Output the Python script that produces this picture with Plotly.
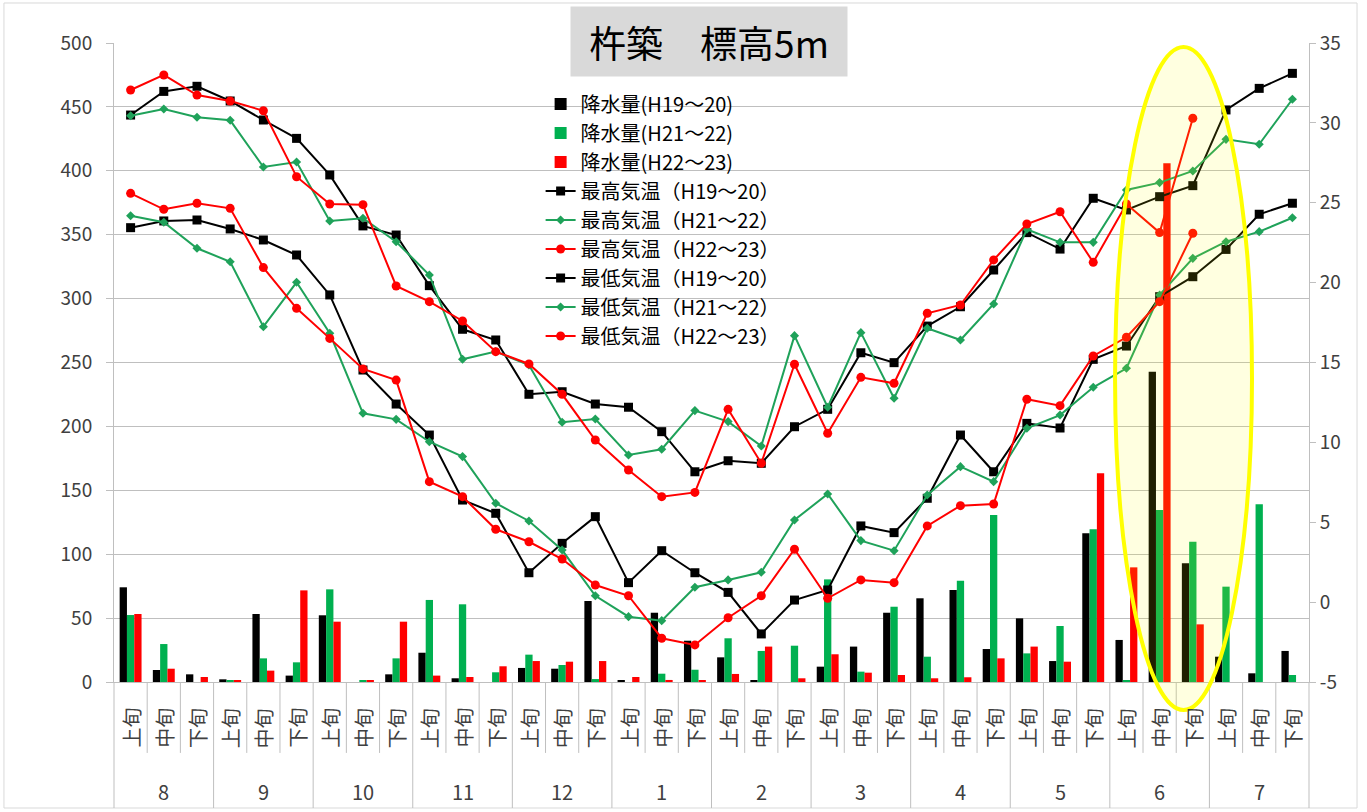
import plotly.graph_objects as go

months = ["8", "9", "10", "11", "12", "1", "2", "3", "4", "5", "6", "7"]
decades = ["上旬", "中旬", "下旬"]

rain_h19 = [74.1, 9.4, 6.0, 2.1, 53.2, 5.0, 52.2, 0, 6.0, 22.9, 2.9, 0, 11.0, 10.4, 63.4, 1.0, 54.2, 32.3,
            19.3, 0.8, 0, 12.0, 27.7, 54.2, 65.5, 72.0, 25.8, 49.8, 16.4, 116.3, 32.9, 242.8, 92.9, 19.8, 6.8, 24.3]
rain_h21 = [52.4, 29.7, 0, 0.8, 18.5, 15.4, 72.5, 1.0, 18.5, 64.2, 60.8, 7.6, 21.4, 13.3, 2.3, 0, 6.5, 9.6,
            34.2, 24.3, 28.4, 80.3, 8.1, 58.9, 19.8, 79.3, 130.7, 22.4, 43.8, 119.5, 1.0, 134.6, 109.8, 74.6, 139.0, 5.5]
rain_h22 = [53.2, 10.4, 3.9, 1.2, 8.9, 71.7, 47.2, 1.5, 47.2, 5.0, 3.9, 12.3, 16.4, 15.9, 16.4, 3.9, 1.6, 1.0,
            6.3, 27.7, 2.9, 21.7, 7.3, 5.5, 2.9, 3.7, 18.5, 27.7, 15.9, 163.3, 89.7, 406.0, 45.1, None, None, None]

tmax_h19 = [30.49, 31.97, 32.29, 31.37, 30.18, 29.03, 26.74, 23.55, 22.98, 19.81, 17.08, 16.41, 13.01, 13.17, 12.40, 12.20, 10.67, 8.16,
            8.85, 8.69, 10.98, 12.07, 15.61, 14.99, 17.28, 18.49, 20.79, 23.13, 22.10, 25.28, 24.55, 25.38, 26.07, 30.81, 32.16, 33.10]
tmax_h21 = [30.45, 30.87, 30.35, 30.16, 27.24, 27.55, 23.86, 24.03, 22.56, 20.48, 15.20, 15.68, 14.84, 11.26, 11.46, 9.21, 9.57, 11.99,
            11.30, 9.77, 16.68, 12.20, 16.87, 12.76, 17.14, 16.41, 18.66, 23.34, 22.52, 22.52, 25.80, 26.26, 26.99, 28.97, 28.66, 31.48]
tmax_h22 = [32.06, 33.00, 31.74, 31.37, 30.76, 26.63, 24.92, 24.88, 19.79, 18.81, 17.60, 15.68, 14.91, 13.01, 10.15, 8.27, 6.60, 6.87,
            12.07, 8.69, 14.89, 10.57, 14.07, 13.70, 18.08, 18.60, 21.42, 23.67, 24.44, 21.27, 24.92, 23.13, 30.29, None, None, None]
tmin_h19 = [23.44, 23.86, 23.92, 23.36, 22.67, 21.73, 19.23, 14.53, 12.40, 10.46, 6.39, 5.56, 1.84, 3.68, 5.35, 1.22, 3.22, 1.84,
            0.61, -1.99, 0.13, 0.76, 4.77, 4.35, 6.50, 10.46, 8.16, 11.19, 10.90, 15.20, 16.03, 19.12, 20.37, 22.08, 24.28, 24.97]
tmin_h21 = [24.19, 23.78, 22.15, 21.31, 17.24, 20.02, 16.83, 11.82, 11.44, 10.04, 9.11, 6.19, 5.08, 3.26, 0.40, -0.91, -1.16, 0.93,
            1.39, 1.87, 5.14, 6.77, 3.85, 3.22, 6.71, 8.48, 7.54, 10.88, 11.71, 13.45, 14.64, 19.23, 21.52, 22.56, 23.19, 24.06]
tmin_h22 = [25.59, 24.59, 24.97, 24.65, 20.94, 18.39, 16.51, 14.60, 13.90, 7.54, 6.60, 4.56, 3.78, 2.70, 1.07, 0.40, -2.26, -2.68,
            -0.98, 0.40, 3.31, 0.24, 1.39, 1.22, 4.77, 6.04, 6.14, 12.70, 12.30, 15.41, 16.58, 18.81, 23.09, None, None, None]

temp_ticks = [-5, 0, 5, 10, 15, 20, 25, 30, 35]
temp_ticktext = ["-5", "0", "5", "10", "15", "20", "25", "30", "35"]

title_text = "杵築　標高5m"

FONT = "Noto Sans CJK JP, Noto Sans, sans-serif"
BLACK = "#000000"
GREEN_BAR = "#00b050"
GREEN_LINE = "#1fa25a"
RED = "#ff0000"
GRID = "#bfbfbf"
TXT = "#404040"

n = len(months) * len(decades)
xs = list(range(n))
cat_labels = [decades[i % 3] for i in xs]

fig = go.Figure()

for name, vals, col in [("降水量(H19～20)", rain_h19, BLACK),
                        ("降水量(H21～22)", rain_h21, GREEN_BAR),
                        ("降水量(H22～23)", rain_h22, RED)]:
    fig.add_trace(go.Bar(x=xs, y=vals, name=name, marker=dict(color=col, line=dict(width=0)), yaxis="y"))

line_specs = [
    ("最高気温（H19～20）", tmax_h19, BLACK, "square", 9),
    ("最高気温（H21～22）", tmax_h21, GREEN_LINE, "diamond", 7),
    ("最高気温（H22～23）", tmax_h22, RED, "circle", 9),
    ("最低気温（H19～20）", tmin_h19, BLACK, "square", 9),
    ("最低気温（H21～22）", tmin_h21, GREEN_LINE, "diamond", 7),
    ("最低気温（H22～23）", tmin_h22, RED, "circle", 9),
]
for name, vals, col, sym, sz in line_specs:
    fig.add_trace(go.Scatter(x=xs, y=vals, name=name, mode="lines+markers", yaxis="y2",
                             line=dict(color=col, width=2),
                             marker=dict(symbol=sym, size=sz, color=col)))

annotations = []
for i, lab in enumerate(cat_labels):
    annotations.append(dict(x=i, xref="x", y=-0.072, yref="paper", text=lab, textangle=-90,
                            showarrow=False, xanchor="center", yanchor="middle",
                            font=dict(family=FONT, size=20, color=TXT)))
for m, mlab in enumerate(months):
    annotations.append(dict(x=3 * m + 1, xref="x", y=-0.171, yref="paper", text=mlab,
                            showarrow=False, xanchor="center", yanchor="middle",
                            font=dict(family=FONT, size=20, color=TXT)))
annotations.append(dict(x=0.498, xref="paper", y=1.0016, yref="paper", text=title_text,
                        showarrow=False, xanchor="center", yanchor="middle",
                        bgcolor="#d9d9d9", width=270, height=63, borderpad=3,
                        font=dict(family=FONT, size=37, color="#000000")))

shapes = []
for b in range(n + 1):
    xp = b / n
    y0 = -0.1972 if b % 3 == 0 else -0.111
    shapes.append(dict(type="line", xref="paper", yref="paper", x0=xp, x1=xp, y0=0, y1=y0,
                       line=dict(color=GRID, width=1)))
# outer chart frame
shapes.append(dict(type="rect", xref="paper", yref="paper", x0=-0.0921, x1=1.0402, y0=-0.1972, y1=1.0626,
                   line=dict(color="#d9d9d9", width=1), layer="below"))
# highlight ellipse around June
shapes.append(dict(type="circle", xref="paper", yref="paper", x0=0.8377, x1=0.9523, y0=-0.0438, y1=0.9937,
                   line=dict(color="#ffff00", width=4), fillcolor="rgba(255,255,0,0.12)", layer="above"))

fig.update_layout(
    width=1367, height=812,
    margin=dict(l=114, r=58, t=43, b=130),
    paper_bgcolor="white", plot_bgcolor="white",
    barmode="group", bargap=0.34, bargroupgap=0,
    font=dict(family=FONT, color=TXT),
    showlegend=True,
    legend=dict(x=0.357, y=0.935, xanchor="left", yanchor="top", bgcolor="rgba(0,0,0,0)",
                font=dict(family=FONT, size=20, color="#000000"), tracegroupgap=0,
                itemwidth=30, traceorder="normal"),
    xaxis=dict(range=[-0.5, n - 0.5], showticklabels=False, showgrid=False, zeroline=False,
               showline=True, linecolor=GRID, ticks=""),
    yaxis=dict(range=[0, 500], dtick=50, showgrid=True, gridcolor=GRID, gridwidth=1, zeroline=False,
               showline=True, linecolor=GRID, ticks="outside", ticklen=7, tickcolor=GRID,
               ticklabelstandoff=10, tickfont=dict(family=FONT, size=19, color=TXT)),
    yaxis2=dict(range=[-5, 35], overlaying="y", side="right", tickvals=temp_ticks, ticktext=temp_ticktext,
                showgrid=False, zeroline=False, showline=True, linecolor=GRID, ticks="outside",
                ticklen=6, tickcolor=GRID, tickfont=dict(family=FONT, size=19, color=TXT)),
    annotations=annotations,
    shapes=shapes,
)

fig.write_html("out.html", config={"displayModeBar": False},
               post_script="document.body.style.margin='0';")
